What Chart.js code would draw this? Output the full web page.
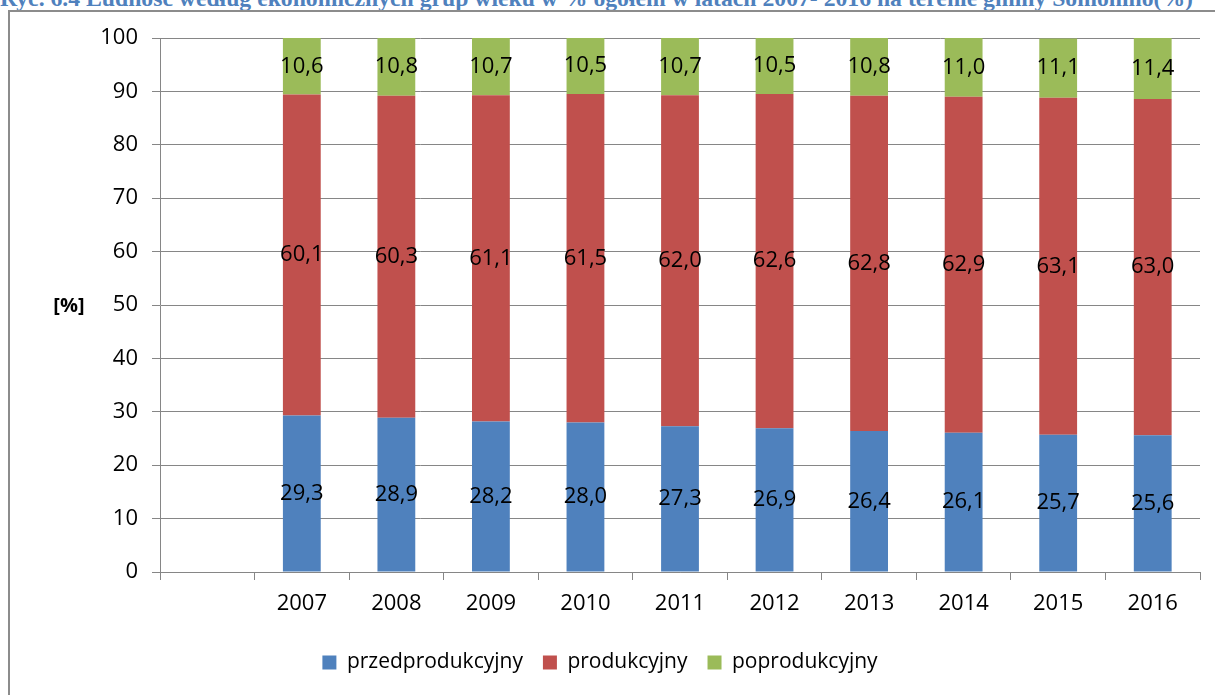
<!DOCTYPE html>
<html lang="pl">
<head>
  <meta charset="UTF-8">
  <title>Ludność według ekonomicznych grup wieku</title>
  <script src="https://cdn.jsdelivr.net/npm/chart.js"></script>
  <style>
    body {
      margin: 0;
      padding: 0;
      background: #fff;
      width: 1215px;
      height: 695px;
      overflow: hidden;
      position: relative;
      font-family: "Open Sans", sans-serif;
    }
    .title {
      position: absolute;
      left: 0;
      top: -15px;
      white-space: nowrap;
      font-family: "Liberation Serif", serif;
      font-weight: bold;
      font-size: 23.7px;
      line-height: 27px;
      color: #4f81bd;
    }
    .frame {
      position: absolute;
      left: 8px;
      top: 10px;
      width: 1300px;
      height: 800px;
      border-left: 2px solid #8c8c8c;
      border-top: 2px solid #8c8c8c;
    }
    #chart {
      position: absolute;
      left: 0;
      top: 0;
    }
  </style>
</head>
<body>
  <div class="title">Ryc. 6.4 Ludność według ekonomicznych grup wieku w % ogółem w latach 2007- 2016 na terenie gminy Somonino(%)</div>
  <div class="frame"></div>
  <canvas id="chart" width="1215" height="695"></canvas>

  <script>
    // first category is empty in the original chart
    const years = ['', '2007', '2008', '2009', '2010', '2011', '2012', '2013', '2014', '2015', '2016'];
    const przedprodukcyjny = [null, 29.3, 28.9, 28.2, 28.0, 27.3, 26.9, 26.4, 26.1, 25.7, 25.6];
    const produkcyjny = [null, 60.1, 60.3, 61.1, 61.5, 62.0, 62.6, 62.8, 62.9, 63.1, 63.0];
    const poprodukcyjny = [null, 10.6, 10.8, 10.7, 10.5, 10.7, 10.5, 10.8, 11.0, 11.1, 11.4];
    const yTicks = [0, 10, 20, 30, 40, 50, 60, 70, 80, 90, 100];

    const gridColor = '#868686';
    const numFont = { family: '"Open Sans", sans-serif', size: 22 };
    const legendFont = { family: '"Open Sans", sans-serif', size: 21 };

    // value labels in the middle of each segment, decimal comma
    const segmentLabels = {
      id: 'segmentLabels',
      afterDatasetsDraw(chart) {
        const ctx = chart.ctx;
        ctx.save();
        ctx.font = '22px "Open Sans", sans-serif';
        ctx.fillStyle = '#000';
        ctx.textAlign = 'center';
        ctx.textBaseline = 'middle';
        chart.data.datasets.forEach((ds, i) => {
          const meta = chart.getDatasetMeta(i);
          meta.data.forEach((bar, j) => {
            const v = ds.data[j];
            if (v === null) return;
            const y = (bar.y + bar.base) / 2;
            ctx.fillText(v.toFixed(1).replace('.', ','), bar.x, y);
          });
        });
        ctx.restore();
      }
    };

    // "[%]" beside the y axis, horizontal
    const yTitle = {
      id: 'yTitle',
      afterDraw(chart) {
        const ctx = chart.ctx;
        const area = chart.chartArea;
        ctx.save();
        ctx.font = 'bold 20px "Open Sans", sans-serif';
        ctx.fillStyle = '#000';
        ctx.textAlign = 'center';
        ctx.textBaseline = 'middle';
        ctx.fillText('[%]', 69, (area.top + area.bottom) / 2 + 1);
        ctx.restore();
      }
    };

    function makeDataset(label, data, color) {
      return {
        label: label,
        data: data,
        backgroundColor: color,
        borderWidth: 0,
        barPercentage: 0.4,
        categoryPercentage: 1.0
      };
    }

    const ctx = document.getElementById('chart').getContext('2d');
    new Chart(ctx, {
      type: 'bar',
      data: {
        labels: years,
        datasets: [
          makeDataset('przedprodukcyjny', przedprodukcyjny, '#4f81bd'),
          makeDataset('produkcyjny', produkcyjny, '#c0504d'),
          makeDataset('poprodukcyjny', poprodukcyjny, '#9bbb59')
        ]
      },
      options: {
        responsive: false,
        animation: false,
        layout: {
          padding: { top: 38, right: 15, bottom: 13, left: 0 }
        },
        plugins: {
          legend: {
            position: 'bottom',
            maxHeight: 50,
            labels: {
              boxWidth: 14,
              boxHeight: 14,
              padding: 20,
              color: '#000',
              font: legendFont
            }
          },
          tooltip: { enabled: false },
          title: { display: false }
        },
        scales: {
          x: {
            stacked: true,
            offset: true,
            afterFit: s => { s.height = 60; },
            grid: {
              offset: true,
              drawOnChartArea: false,
              drawTicks: true,
              tickLength: 8,
              color: gridColor
            },
            border: { display: true, color: gridColor },
            ticks: {
              color: '#000',
              font: numFont,
              padding: 11,
              maxRotation: 0,
              autoSkip: false
            }
          },
          y: {
            stacked: true,
            min: 0,
            max: 100,
            afterFit: s => { s.width = 160; },
            afterBuildTicks: s => { s.ticks = yTicks.map(v => ({ value: v })); },
            grid: {
              color: gridColor,
              tickLength: 8
            },
            border: { display: true, color: gridColor },
            ticks: {
              color: '#000',
              font: numFont,
              padding: 14
            }
          }
        }
      },
      plugins: [segmentLabels, yTitle]
    });
  </script>
</body>
</html>
